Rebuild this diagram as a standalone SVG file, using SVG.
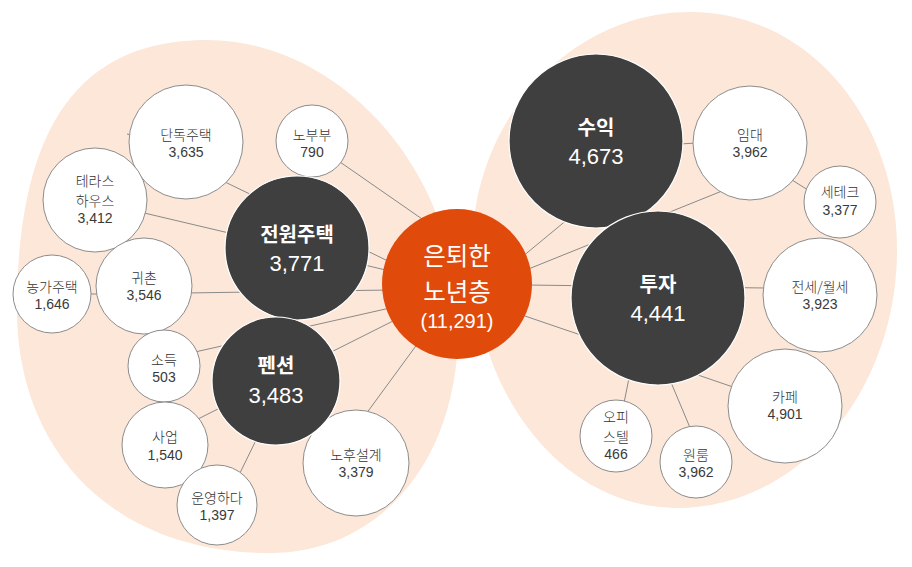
<svg xmlns="http://www.w3.org/2000/svg" width="912" height="567" viewBox="0 0 912 567">
<style>
.bg{fill:#fce7d9}
.ln{stroke:#8a8a8a;stroke-width:1;fill:none}
.sat{fill:#fff;stroke:#8c8c8c;stroke-width:1}
.dark{fill:#3f3f3f;stroke:#fff;stroke-width:1.2}
.hub{fill:#e04b0b}
text{font-family:"Noto Sans CJK KR","Noto Sans",sans-serif;text-anchor:middle}
.st{font-size:14px;fill:#333;font-weight:300}
.sn{font-size:14px;fill:#3a3a3a;font-family:"Liberation Sans",Arial,sans-serif}
.dt{font-size:20px;fill:#fff;font-weight:700}
.dn{font-size:22px;fill:#fff;font-family:"Liberation Sans",Arial,sans-serif}
.ht{font-size:24.5px;fill:#fff;font-weight:400}
.hn{font-size:20px;fill:#fff;font-family:"Liberation Sans",Arial,sans-serif}
</style>
<rect width="912" height="567" fill="#fff"/>
<path class="bg" d="M207,40 C335,40 458,165 458,330 C458,460 380,553 270,553 C110,553 17,448 17,310 C17,140 70,40 207,40 Z"/>
<path class="bg" d="M690,12 C810,12 897,120 897,250 C897,390 800,508 677,508 C560,508 472,390 472,250 C472,120 570,12 690,12 Z"/>
<g id="connectors">
<line class="ln" x1="340" y1="162" x2="425" y2="221"/>
<line class="ln" x1="225" y1="182" x2="390" y2="262"/>
<line class="ln" x1="140" y1="212" x2="390" y2="271"/>
<line class="ln" x1="185" y1="293" x2="390" y2="290"/>
<line class="ln" x1="88" y1="294" x2="100" y2="294"/>
<line class="ln" x1="127" y1="134" x2="131" y2="135"/>
<line class="ln" x1="195" y1="352" x2="390" y2="308"/>
<line class="ln" x1="198" y1="419" x2="395" y2="320"/>
<line class="ln" x1="238" y1="477" x2="262" y2="428"/>
<line class="ln" x1="366" y1="414" x2="418" y2="343"/>
<line class="ln" x1="522" y1="257" x2="568" y2="219"/>
<line class="ln" x1="526" y1="270" x2="722" y2="191"/>
<line class="ln" x1="680" y1="144" x2="696" y2="143"/>
<line class="ln" x1="792" y1="180" x2="808" y2="190"/>
<line class="ln" x1="526" y1="285" x2="766" y2="288"/>
<line class="ln" x1="522" y1="315" x2="736" y2="388"/>
<line class="ln" x1="629" y1="378" x2="624" y2="403"/>
<line class="ln" x1="670" y1="380" x2="691" y2="430"/>
</g>
<g id="n-dandok"><circle class="sat" cx="186" cy="142" r="57"/><text class="st" x="186" y="140">단독주택</text><text class="sn" x="186" y="157">3,635</text></g>
<g id="n-nobubu"><circle class="sat" cx="312" cy="141" r="36"/><text class="st" x="312" y="140">노부부</text><text class="sn" x="312" y="157">790</text></g>
<g id="n-terrace"><circle class="sat" cx="95" cy="200" r="52"/><text class="st" x="95" y="186">테라스</text><text class="st" x="95" y="206">하우스</text><text class="sn" x="95" y="223">3,412</text></g>
<g id="n-gwichon"><circle class="sat" cx="144" cy="286" r="48"/><text class="st" x="144" y="283">귀촌</text><text class="sn" x="144" y="300">3,546</text></g>
<g id="n-nongga"><circle class="sat" cx="52" cy="294" r="39"/><text class="st" x="52" y="292">농가주택</text><text class="sn" x="52" y="309">1,646</text></g>
<g id="n-sodeuk"><circle class="sat" cx="164" cy="366" r="36"/><text class="st" x="164" y="365">소득</text><text class="sn" x="164" y="382">503</text></g>
<g id="n-saeop"><circle class="sat" cx="165" cy="445" r="43"/><text class="st" x="165" y="442">사업</text><text class="sn" x="165" y="460">1,540</text></g>
<g id="n-unyeong"><circle class="sat" cx="217" cy="505" r="40"/><text class="st" x="217" y="503">운영하다</text><text class="sn" x="217" y="520">1,397</text></g>
<g id="n-nohu"><circle class="sat" cx="356" cy="463" r="53"/><text class="st" x="356" y="460">노후설계</text><text class="sn" x="356" y="477">3,379</text></g>
<g id="n-jeonwon"><circle class="dark" cx="297" cy="248" r="72"/><text class="dt" x="297" y="242">전원주택</text><text class="dn" x="297" y="271">3,771</text></g>
<g id="n-pension"><circle class="dark" cx="276" cy="381" r="64"/><text class="dt" x="276" y="373">펜션</text><text class="dn" x="276" y="403">3,483</text></g>
<g id="n-imdae"><circle class="sat" cx="750" cy="143" r="57"/><text class="st" x="750" y="140">임대</text><text class="sn" x="750" y="157">3,962</text></g>
<g id="n-setech"><circle class="sat" cx="840" cy="202" r="36"/><text class="st" x="840" y="197">세테크</text><text class="sn" x="840" y="215">3,377</text></g>
<g id="n-jeonse"><circle class="sat" cx="820" cy="295" r="57"/><text class="st" x="820" y="292">전세/월세</text><text class="sn" x="820" y="309">3,923</text></g>
<g id="n-cafe"><circle class="sat" cx="785" cy="406" r="57"/><text class="st" x="785" y="402">카페</text><text class="sn" x="785" y="419">4,901</text></g>
<g id="n-officetel"><circle class="sat" cx="616" cy="436" r="36"/><text class="st" x="616" y="422">오피</text><text class="st" x="616" y="442">스텔</text><text class="sn" x="616" y="459">466</text></g>
<g id="n-oneroom"><circle class="sat" cx="696" cy="462" r="36"/><text class="st" x="696" y="460">원룸</text><text class="sn" x="696" y="477">3,962</text></g>
<g id="n-suik"><circle class="dark" cx="596" cy="141" r="87"/><text class="dt" x="596" y="135">수익</text><text class="dn" x="596" y="164">4,673</text></g>
<g id="n-tuja"><circle class="dark" cx="658" cy="298" r="87"/><text class="dt" x="658" y="292">투자</text><text class="dn" x="658" y="321">4,441</text></g>
<g id="n-hub"><circle class="hub" cx="457" cy="284" r="75"/><text class="ht" x="457" y="265">은퇴한</text><text class="ht" x="457" y="301">노년층</text><text class="hn" x="457" y="328">(11,291)</text></g>
</svg>
